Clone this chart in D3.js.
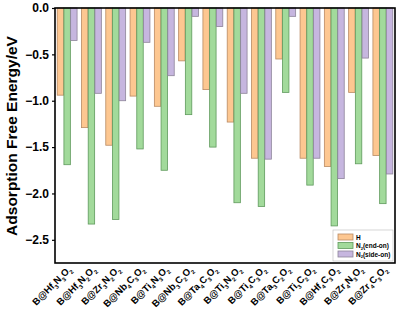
<!DOCTYPE html>
<html>
<head>
<meta charset="utf-8">
<script src="https://cdn.jsdelivr.net/npm/d3@7"></script>
<style>
  body { margin: 0; background: #fff; }
  text { font-family: "Liberation Sans", Arial, sans-serif; font-weight: bold; }
</style>
</head>
<body>
<svg width="400" height="309"></svg>
<script>
// categories (digits are drawn as subscripts)
let categories = ["B@Hf3N3O2", "B@Hf3N2O2", "B@Zr3N2O2", "B@Nb4C3O2", "B@Ti4N3O2", "B@Nb3C2O2", "B@Ta4C3O2",
  "B@Ti3N2O2", "B@Ti4C3O2", "B@Ta3C2O2", "B@Ti3C2O2", "B@Hf4C3O2", "B@Zr4N3O2", "B@Zr4C3O2"];

// series values (eV)
let hValues    = [-0.94, -1.29, -1.48, -0.95, -1.06, -0.57, -0.88, -1.23, -1.62, -0.55, -1.62, -1.71, -0.91, -1.59];
let endOn      = [-1.69, -2.33, -2.28, -1.52, -1.75, -1.15, -1.50, -2.10, -2.14, -0.91, -1.91, -2.35, -1.68, -2.11];
let sideOn     = [-0.35, -0.92, -1.00, -0.37, -0.73, -0.09, -0.20, -0.92, -1.63, -0.09, -1.62, -1.84, -0.54, -1.79];

let yTicks = [0, -0.5, -1.0, -1.5, -2.0, -2.5];
let seriesNames = ["H", "N2(end-on)", "N2(side-on)"];

let fills   = ["#fdc791", "#a2da9b", "#c6b6df"];
let strokes = ["#b98a63", "#5f9a5c", "#8d8499"];

let margin = {top: 8, right: 5, bottom: 46, left: 55};
let width = 400 - margin.left - margin.right;
let height = 309 - margin.top - margin.bottom;

let svg = d3.select("svg");
let g = svg.append("g").attr("transform", "translate(" + margin.left + "," + margin.top + ")");

let x = d3.scaleBand().domain(categories).range([0, width]).paddingInner(0.16).paddingOuter(0.08);
let xs = d3.scaleBand().domain([0, 1, 2]).range([0, x.bandwidth()]).padding(0.04);
let y = d3.scaleLinear().domain([-2.75, 0]).range([height, 0]);

let series = [hValues, endOn, sideOn];
let rows = [];
categories.forEach((c, i) => series.forEach((s, k) => rows.push({c: c, k: k, v: s[i]})));

g.selectAll("rect.bar")
  .data(rows)
  .join("rect")
  .attr("class", "bar")
  .attr("x", d => x(d.c) + xs(d.k))
  .attr("width", xs.bandwidth())
  .attr("y", y(0))
  .attr("height", d => y(d.v) - y(0))
  .style("fill", d => fills[d.k])
  .style("stroke", d => strokes[d.k])
  .style("stroke-width", 0.8);

// y axis
let yAxis = g.append("g")
  .call(d3.axisLeft(y).tickValues(yTicks).tickFormat(d3.format(".1f")).tickSize(3));
yAxis.select(".domain").remove();
yAxis.selectAll("text").style("font-size", "12px").attr("x", -6);
yAxis.selectAll("line").style("stroke-width", 1.2);

// frame
g.append("rect")
  .attr("x", 0).attr("y", 0)
  .attr("width", width).attr("height", height)
  .style("fill", "none").style("stroke", "#000").style("stroke-width", 1.6);

// text with subscript digits
function addLabel(sel, txt, size) {
  let parts = txt.match(/[^0-9]+|[0-9]+/g);
  let shift = size * 0.3;
  let down = false;
  parts.forEach(p => {
    if (/^[0-9]+$/.test(p)) {
      sel.append("tspan").attr("dy", shift).style("font-size", (size * 0.62) + "px").text(p);
      down = true;
    } else {
      sel.append("tspan").attr("dy", down ? -shift : 0).text(p);
      down = false;
    }
  });
}

g.selectAll("text.xl")
  .data(categories)
  .join("text")
  .attr("class", "xl")
  .attr("text-anchor", "end")
  .attr("transform", d => "translate(" + (x(d) + x.bandwidth() / 2 + 5) + "," + (height + 7) + ") rotate(-45)")
  .style("font-size", "9.6px")
  .each(function (d) { addLabel(d3.select(this), d, 9.6); });

// y title
svg.append("text")
  .attr("transform", "translate(17," + (margin.top + 128) + ") rotate(-90)")
  .attr("text-anchor", "middle")
  .style("font-size", "15.5px")
  .text("Adsorption Free Energy/eV");

// legend
let lg = g.append("g").attr("transform", "translate(" + (width - 62) + "," + (height - 33) + ")");
lg.append("rect")
  .attr("x", 0).attr("y", 0).attr("width", 60).attr("height", 31)
  .style("fill", "#fff").style("stroke", "#bbb").style("stroke-width", 0.6);
seriesNames.forEach((n, k) => {
  lg.append("rect")
    .attr("x", 5).attr("y", 4 + k * 8.5).attr("width", 15).attr("height", 6)
    .style("fill", fills[k]).style("stroke", strokes[k]).style("stroke-width", 0.8);
  let t = lg.append("text")
    .attr("x", 23).attr("y", 9.5 + k * 8.5)
    .style("font-size", "6.5px");
  addLabel(t, n, 6.5);
});
</script>
</body>
</html>
